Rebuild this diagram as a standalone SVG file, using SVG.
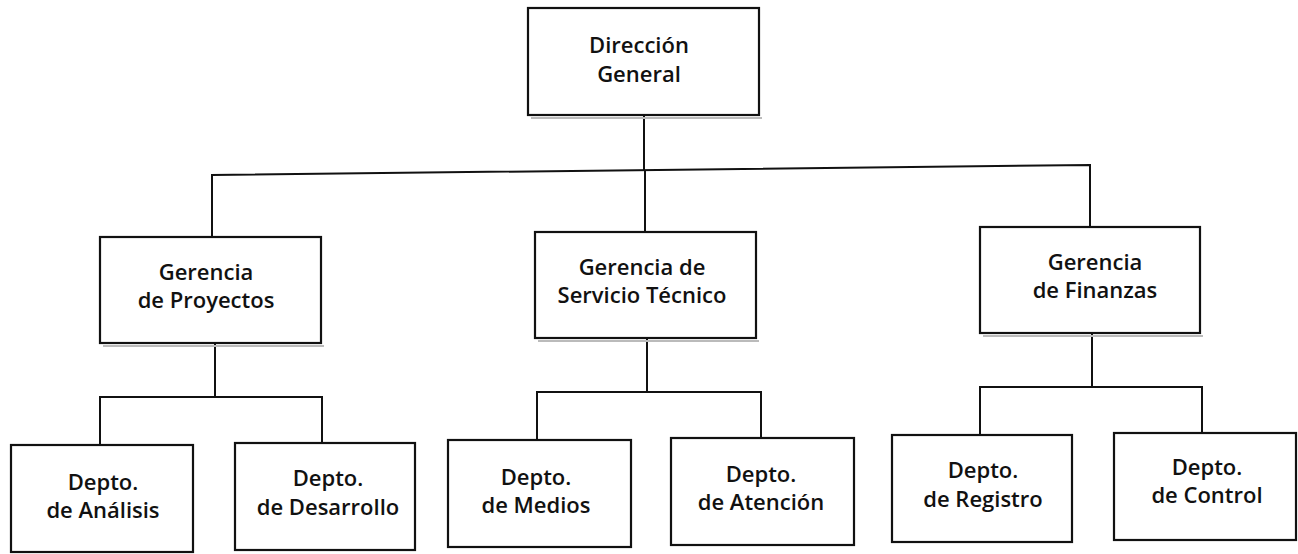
<svg xmlns="http://www.w3.org/2000/svg" width="1298" height="554" viewBox="0 0 1298 554">
<style>
.box{fill:#fff;stroke:#111;stroke-width:2.2}
.ln{fill:none;stroke:#111;stroke-width:2}
.sh{fill:none;stroke:#bbb;stroke-width:2}
text{font-family:"Open Sans","Liberation Sans",sans-serif;font-size:22px;font-weight:600;fill:#111;text-anchor:middle}
</style>
<rect width="1298" height="554" fill="#fff"/>
<g id="connectors">
<path class="ln" d="M644 115 V170"/>
<path class="ln" d="M212 237 V175 L1090 165 V227"/>
<path class="ln" d="M645 170 V232"/>
<path class="ln" d="M215 343 V397 M100 445 V397 H322 V443"/>
<path class="ln" d="M647 338 V392 M537 440 V392 H761 V438"/>
<path class="ln" d="M1092 333 V387 M980 435 V387 H1202 V433"/>
</g>
<g id="n_direccion">
<path class="sh" d="M531 118 H762"/>
<rect class="box" x="528" y="8" width="231" height="107"/>
<text x="639" y="53">Dirección</text>
<text x="639" y="82">General</text>
</g>
<g id="n_proyectos">
<path class="sh" d="M103 346 H324"/>
<rect class="box" x="100" y="237" width="221" height="106"/>
<text x="206" y="280">Gerencia</text>
<text x="206" y="308">de Proyectos</text>
</g>
<g id="n_servicio">
<path class="sh" d="M538 341 H759"/>
<rect class="box" x="535" y="232" width="221" height="106"/>
<text x="642" y="275">Gerencia de</text>
<text x="642" y="303">Servicio Técnico</text>
</g>
<g id="n_finanzas">
<path class="sh" d="M983 336 H1203"/>
<rect class="box" x="980" y="227" width="220" height="106"/>
<text x="1095" y="270">Gerencia</text>
<text x="1095" y="298">de Finanzas</text>
</g>
<g id="n_analisis">
<rect class="box" x="11" y="445" width="182" height="107"/>
<text x="103" y="490">Depto.</text>
<text x="103" y="518">de Análisis</text>
</g>
<g id="n_desarrollo">
<rect class="box" x="235" y="443" width="180" height="107"/>
<text x="328" y="486">Depto.</text>
<text x="328" y="515">de Desarrollo</text>
</g>
<g id="n_medios">
<rect class="box" x="448" y="440" width="183" height="107"/>
<text x="536" y="485">Depto.</text>
<text x="536" y="513">de Medios</text>
</g>
<g id="n_atencion">
<rect class="box" x="671" y="438" width="183" height="107"/>
<text x="761" y="482">Depto.</text>
<text x="761" y="510">de Atención</text>
</g>
<g id="n_registro">
<rect class="box" x="892" y="435" width="180" height="107"/>
<text x="983" y="478">Depto.</text>
<text x="983" y="507">de Registro</text>
</g>
<g id="n_control">
<rect class="box" x="1114" y="433" width="182" height="107"/>
<text x="1207" y="475">Depto.</text>
<text x="1207" y="503">de Control</text>
</g>
</svg>
